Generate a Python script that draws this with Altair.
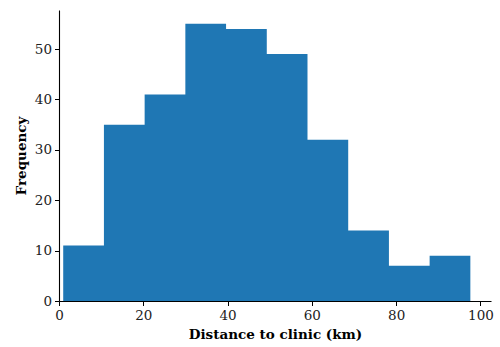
import altair as alt
import pandas as pd

bin_start = [1.0, 10.66, 20.32, 29.98, 39.64, 49.3, 58.96, 68.62, 78.28, 87.94]
bin_end = [10.66, 20.32, 29.98, 39.64, 49.3, 58.96, 68.62, 78.28, 87.94, 97.6]
counts = [11, 35, 41, 55, 54, 49, 32, 14, 7, 9]
x_ticks = [0, 20, 40, 60, 80, 100]
y_ticks = [0, 10, 20, 30, 40, 50]

# Histogram outline: each bin's left edge with its count, closed at the last bin's right edge
edges = bin_start + [bin_end[-1]]
heights = counts + [counts[-1]]
df = pd.DataFrame({"edge": edges, "count": heights})

FONT = "DejaVu Serif"

chart = alt.Chart(df).mark_area(color="#1f77b4", interpolate="step-after", opacity=1).encode(
    x=alt.X("edge:Q",
            scale=alt.Scale(domain=[0, 102.5], nice=False, zero=False),
            axis=alt.Axis(values=x_ticks, title="Distance to clinic (km)", grid=False,
                          format="d", tickSize=4.5, labelPadding=3, titlePadding=5)),
    y=alt.Y("count:Q",
            scale=alt.Scale(domain=[0, 57.75], nice=False),
            axis=alt.Axis(values=y_ticks, title="Frequency", grid=False,
                          format="d", tickSize=4.5, labelPadding=3, titlePadding=6)),
    y2=alt.datum(0),
).properties(
    width=432, height=291,
    autosize=alt.AutoSizeParams(type="none"),
    padding={"left": 59, "top": 10, "right": 9, "bottom": 46},
).configure_view(stroke=None).configure_axis(
    domainColor="black", domainWidth=1.1, tickColor="black", tickWidth=1,
    labelFont=FONT, labelFontSize=13.5, labelColor="#222222",
    titleFont=FONT, titleFontSize=13.5, titleFontWeight="bold", titleColor="black",
    labelFlush=False,
)

chart.save("out.html", embed_options={"renderer": "svg", "actions": False})
